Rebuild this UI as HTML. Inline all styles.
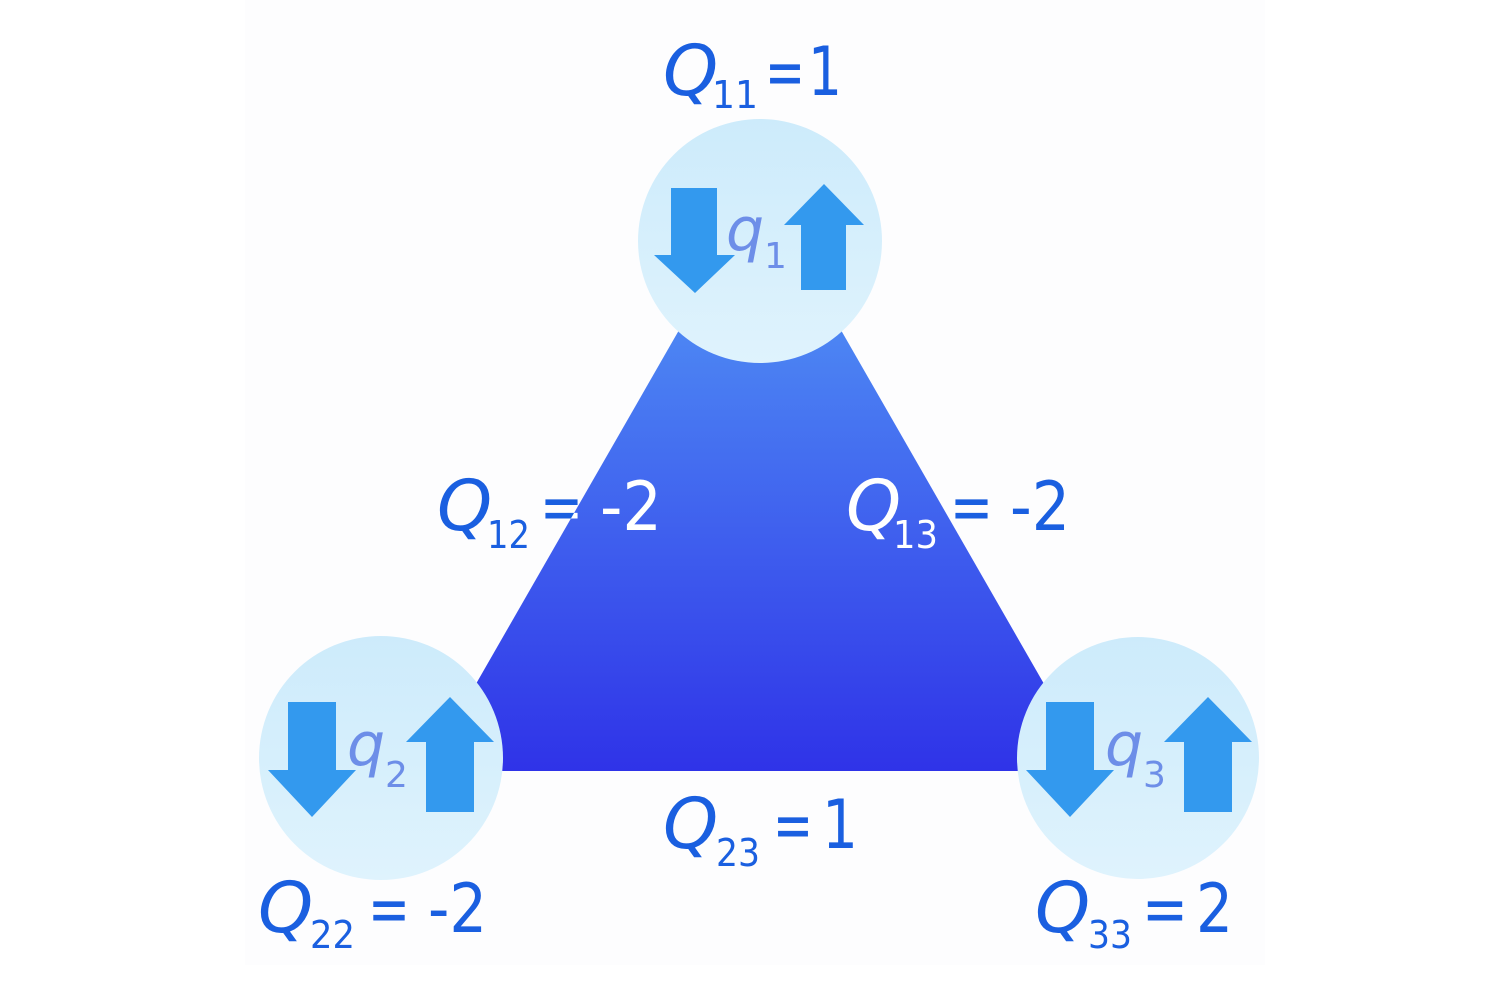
<!DOCTYPE html>
<html><head><meta charset="utf-8"><style>
html,body{margin:0;padding:0;background:#fff}
svg{display:block}
text{font-family:"DejaVu Sans","Liberation Sans",sans-serif}
.Q{font-style:italic;font-size:70px}
.s{font-size:38px}
.n{font-size:68px}
.q{font-style:italic;font-size:60px;fill:#6d8ee8}
.qs{font-size:36px;fill:#6d8ee8}
</style></head><body>
<svg width="1512" height="1008" viewBox="0 0 1512 1008">
<defs>
<linearGradient id="tg" x1="0" y1="0" x2="0" y2="1">
<stop offset="0" stop-color="#56a0f7"/><stop offset="1" stop-color="#2f33e8"/></linearGradient>
<linearGradient id="cg" x1="0" y1="0" x2="0" y2="1">
<stop offset="0" stop-color="#cdebfb"/><stop offset="1" stop-color="#dff3fd"/></linearGradient>
<clipPath id="tri"><polygon points="760,189 426,771 1094,771"/></clipPath>
<g id="lbls">
<text class="Q" x="663" y="95">Q</text><text class="s" x="712" y="108" textLength="46" lengthAdjust="spacingAndGlyphs">11</text>
<text class="n" x="765" y="95" textLength="40" lengthAdjust="spacingAndGlyphs">=</text><text class="n" x="808" y="95" textLength="34" lengthAdjust="spacingAndGlyphs">1</text>

<text class="Q" x="437" y="530">Q</text><text class="s" x="487" y="548" textLength="43" lengthAdjust="spacingAndGlyphs">12</text>
<text class="n" x="540" y="530" textLength="43" lengthAdjust="spacingAndGlyphs">=</text><text class="n" x="600" y="530" textLength="62" lengthAdjust="spacingAndGlyphs">-2</text>

<text class="Q" x="846" y="530">Q</text><text class="s" x="893" y="548" textLength="45" lengthAdjust="spacingAndGlyphs">13</text>
<text class="n" x="950" y="530" textLength="43" lengthAdjust="spacingAndGlyphs">=</text><text class="n" x="1010" y="530" textLength="60" lengthAdjust="spacingAndGlyphs">-2</text>

<text class="Q" x="663" y="848">Q</text><text class="s" x="716" y="866" textLength="44" lengthAdjust="spacingAndGlyphs">23</text>
<text class="n" x="773" y="848" textLength="40" lengthAdjust="spacingAndGlyphs">=</text><text class="n" x="822" y="848" textLength="36" lengthAdjust="spacingAndGlyphs">1</text>

<text class="Q" x="258" y="932">Q</text><text class="s" x="310" y="948" textLength="45" lengthAdjust="spacingAndGlyphs">22</text>
<text class="n" x="368" y="932" textLength="42" lengthAdjust="spacingAndGlyphs">=</text><text class="n" x="428" y="932" textLength="59" lengthAdjust="spacingAndGlyphs">-2</text>

<text class="Q" x="1035" y="932">Q</text><text class="s" x="1088" y="948" textLength="44" lengthAdjust="spacingAndGlyphs">33</text>
<text class="n" x="1142" y="932" textLength="46" lengthAdjust="spacingAndGlyphs">=</text><text class="n" x="1196" y="932" textLength="37" lengthAdjust="spacingAndGlyphs">2</text>
</g>
</defs>
<rect x="245" y="0" width="1020" height="965" fill="#fdfdfe"/>
<polygon points="760,189 426,771 1094,771" fill="url(#tg)"/>
<g fill="url(#cg)">
<circle cx="760" cy="241" r="122"/>
<circle cx="381" cy="758" r="122"/>
<circle cx="1138" cy="758" r="121"/>
</g>
<g fill="#3399ee">
<polygon points="671,188 717,188 717,255 735,255 695,293 654,255 671,255"/>
<polygon points="801,290 846,290 846,225 864,225 824,184 784,225 801,225"/>
<polygon points="288,702 336,702 336,770 356,770 312,817 268,770 288,770"/>
<polygon points="426,812 474,812 474,742 494,742 450,697 406,742 426,742"/>
<polygon points="1046,702 1094,702 1094,770 1114,770 1070,817 1026,770 1046,770"/>
<polygon points="1184,812 1232,812 1232,742 1252,742 1208,697 1164,742 1184,742"/>
</g>
<text class="q" x="726" y="250">q</text><text class="qs" x="764" y="268">1</text>
<text class="q" x="347" y="765">q</text><text class="qs" x="385" y="787">2</text>
<text class="q" x="1105" y="765">q</text><text class="qs" x="1143" y="787">3</text>
<use href="#lbls" fill="#1a5fe0"/>
<g clip-path="url(#tri)"><use href="#lbls" fill="#ffffff"/></g>
</svg>
</body></html>
